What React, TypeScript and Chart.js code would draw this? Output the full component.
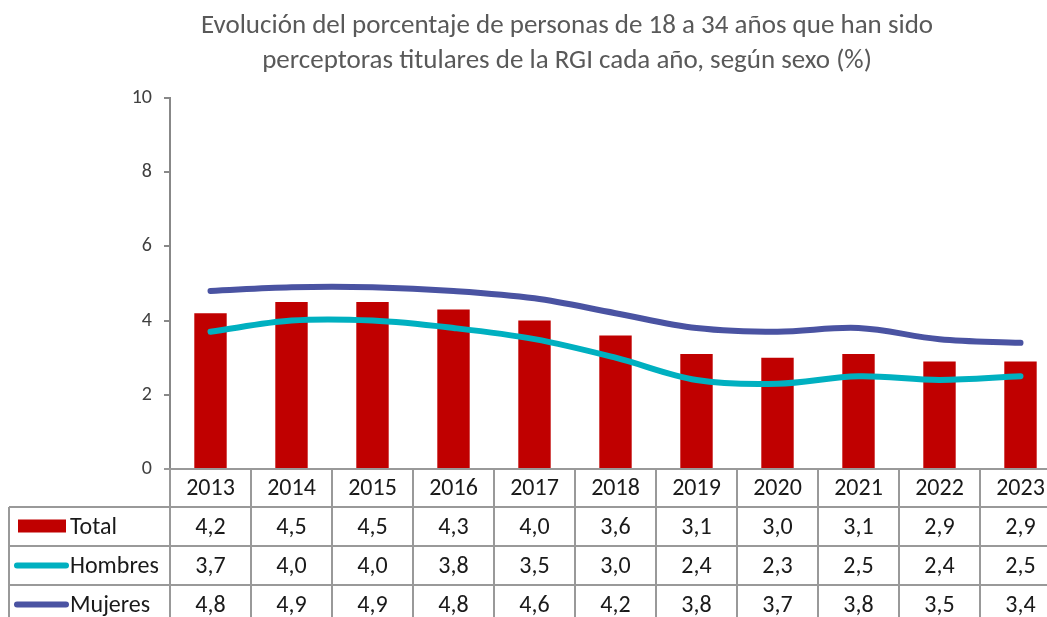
import { useEffect, useRef } from "react";
import { Chart, registerables } from "chart.js";
Chart.register(...registerables);

const years = ["2013", "2014", "2015", "2016", "2017", "2018", "2019", "2020", "2021", "2022", "2023"];
const totalValues = [4.2, 4.5, 4.5, 4.3, 4.0, 3.6, 3.1, 3.0, 3.1, 2.9, 2.9];
const hombresValues = [3.7, 4.0, 4.0, 3.8, 3.5, 3.0, 2.4, 2.3, 2.5, 2.4, 2.5];
const mujeresValues = [4.8, 4.9, 4.9, 4.8, 4.6, 4.2, 3.8, 3.7, 3.8, 3.5, 3.4];
const seriesNames = ["Total", "Hombres", "Mujeres"];
const titleLines = [
  "Evolución del porcentaje de personas de 18 a 34 años que han sido",
  "perceptoras titulares de la RGI cada año, según sexo (%)",
];
const yMin = 0;
const yMax = 10;
const yStep = 2;

const RED = "#C00000";
const TEAL = "#00B0C0";
const NAVY = "#4A53A2";
const FONT = "Carlito, Lato, 'Liberation Sans', sans-serif";
const W = 1080;
const H = 640;

const fmt = (v: number) => v.toFixed(1).replace(".", ",");

const tablePlugin = {
  id: "tablePlugin",
  afterDraw(chart: any) {
    const ctx = chart.ctx as CanvasRenderingContext2D;
    const area = chart.chartArea;
    const xs = chart.scales.x;
    const n = years.length;
    const cw = (area.right - area.left) / n;
    const rows = [area.bottom, area.bottom + 38, area.bottom + 77, area.bottom + 116, area.bottom + 155];
    const headLeft = 9;

    ctx.save();
    // title
    ctx.fillStyle = "#595959";
    ctx.font = `27px ${FONT}`;
    ctx.textAlign = "center";
    ctx.textBaseline = "middle";
    titleLines.forEach((t, i) => ctx.fillText(t, 567, 26 + i * 35));

    // grid lines of table
    ctx.strokeStyle = "#999999";
    ctx.lineWidth = 2;
    ctx.beginPath();
    ctx.moveTo(area.left - 6, rows[0]);
    ctx.lineTo(area.right, rows[0]);
    for (let r = 1; r < rows.length; r++) {
      ctx.moveTo(headLeft, rows[r]);
      ctx.lineTo(area.right, rows[r]);
    }
    for (let i = 0; i <= n; i++) {
      const x = area.left + i * cw;
      ctx.moveTo(x, rows[0]);
      ctx.lineTo(x, rows[4]);
    }
    ctx.moveTo(headLeft, rows[1]);
    ctx.lineTo(headLeft, rows[4]);
    ctx.stroke();

    // text
    ctx.fillStyle = "#1a1a1a";
    ctx.font = `24px ${FONT}`;
    ctx.textAlign = "center";
    ctx.textBaseline = "middle";
    const series = [totalValues, hombresValues, mujeresValues];
    years.forEach((y, i) => {
      const cx = xs.getPixelForValue(i);
      ctx.fillText(y, cx, (rows[0] + rows[1]) / 2 + 1);
      series.forEach((s, r) => {
        ctx.fillText(fmt(s[i]), cx, (rows[r + 1] + rows[r + 2]) / 2 + 1);
      });
    });

    // legend keys
    ctx.textAlign = "left";
    seriesNames.forEach((name, r) => {
      const cy = (rows[r + 1] + rows[r + 2]) / 2;
      if (r === 0) {
        ctx.fillStyle = RED;
        ctx.fillRect(18, cy - 7, 48, 13);
      } else {
        ctx.strokeStyle = r === 1 ? TEAL : NAVY;
        ctx.lineWidth = 6;
        ctx.lineCap = "round";
        ctx.beginPath();
        ctx.moveTo(17, cy);
        ctx.lineTo(66, cy);
        ctx.stroke();
      }
      ctx.fillStyle = "#1a1a1a";
      ctx.fillText(name, 70, cy + 1);
    });
    ctx.restore();
  },
};

export default function App() {
  const ref = useRef<HTMLCanvasElement | null>(null);
  useEffect(() => {
    if (!ref.current) return;
    const chart = new Chart(ref.current, {
      type: "bar",
      data: {
        labels: years,
        datasets: [
          {
            type: "line",
            label: seriesNames[2],
            data: mujeresValues,
            borderColor: NAVY,
            backgroundColor: NAVY,
            borderWidth: 6,
            borderCapStyle: "round",
            pointRadius: 0,
            tension: 0.35,
            order: 1,
          } as any,
          {
            type: "line",
            label: seriesNames[1],
            data: hombresValues,
            borderColor: TEAL,
            backgroundColor: TEAL,
            borderWidth: 6,
            borderCapStyle: "round",
            pointRadius: 0,
            tension: 0.35,
            order: 2,
          } as any,
          {
            type: "bar",
            label: seriesNames[0],
            data: totalValues,
            backgroundColor: RED,
            barPercentage: 0.4,
            categoryPercentage: 1,
            order: 3,
          },
        ],
      },
      options: {
        responsive: false,
        animation: false,
        devicePixelRatio: 1,
        layout: { padding: { left: 0, right: W - 1061, top: 98, bottom: H - 469 } },
        plugins: { legend: { display: false }, title: { display: false }, tooltip: { enabled: false } },
        scales: {
          x: { display: false, offset: true },
          y: {
            min: yMin,
            max: yMax,
            ticks: { stepSize: yStep, color: "#404040", font: { size: 20, family: FONT }, padding: 12 },
            grid: { display: true, drawOnChartArea: false, tickLength: 6, color: "#888888", lineWidth: 2 },
            border: { display: true, color: "#888888", width: 2 },
            afterFit: (s: any) => {
              s.width = 170;
            },
          },
        },
      },
      plugins: [tablePlugin],
    });
    return () => chart.destroy();
  }, []);
  return (
    <div style={{ position: "fixed", left: 0, top: 0, width: 1047, height: 617, overflow: "hidden", background: "#fff" }}>
      <canvas ref={ref} width={W} height={H} style={{ width: W, height: H, display: "block" }} />
    </div>
  );
}
